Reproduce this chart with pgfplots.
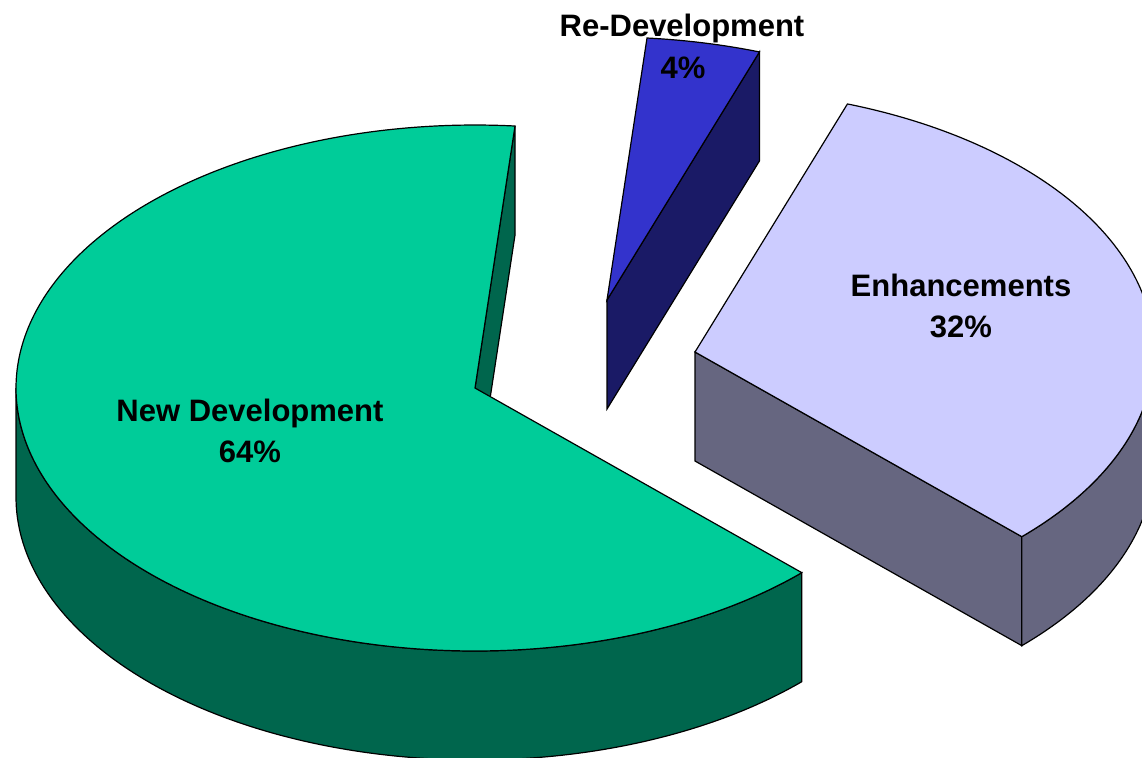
\documentclass[border=0pt]{standalone}
\usepackage{pgfplots}
\pgfplotsset{compat=1.18}
\usepackage{fontspec}
\setmainfont{Liberation Sans}
\definecolor{ndtop}{HTML}{00CC99}
\definecolor{ndside}{HTML}{00664D}
\definecolor{rdtop}{HTML}{3333CC}
\definecolor{rdside}{HTML}{1A1A66}
\definecolor{entop}{HTML}{CCCCFF}
\definecolor{enside}{HTML}{666680}
% data (percent)
\def\NewDev{64}
\def\ReDev{4}
\def\Enh{32}
\def\StartAngle{85}
% geometry (pixels)
\def\RA{459}\def\RB{263}\def\DP{109}
% top face: cx, cy, theta_start, delta, colour
\newcommand{\topface}[5]{%
 \addplot[fill=#5, draw=black, line width=0.6pt, domain=0:3, samples=721, variable=\t]
 ({#1 + \RA*min(\t,1,3-\t)*cos((#3) + (#4)*min(max(\t-1,0),1))},
  {#2 - \RB*min(\t,1,3-\t)*sin((#3) + (#4)*min(max(\t-1,0),1))}) -- cycle;}
% outer side: cx, cy, theta_start, delta, colour
\newcommand{\outerside}[5]{%
 \addplot[fill=#5, draw=black, line width=0.6pt, domain=0:3, samples=601, variable=\t]
 ({#1 + \RA*cos((#3) + (#4)*min(\t,1) - (#4)*max(\t-2,0))},
  {#2 - \RB*sin((#3) + (#4)*min(\t,1) - (#4)*max(\t-2,0)) + \DP*min(max(\t-1,0),1)}) -- cycle;}
% radial face: cx, cy, theta, colour
\newcommand{\radialface}[4]{%
 \addplot[fill=#4, draw=black, line width=0.6pt, samples at={0,1,2,3}, variable=\t]
 ({#1 + \RA*min(\t,1,3-\t)*cos(#3)},
  {#2 - \RB*min(\t,1,3-\t)*sin(#3) + \DP*min(max(\t-1,0),1)}) -- cycle;}
\begin{document}
\begin{tikzpicture}
\pgfmathsetmacro{\gS}{\StartAngle}
\pgfmathsetmacro{\gD}{\NewDev*3.6}
\pgfmathsetmacro{\rD}{\ReDev*3.6}
\pgfmathsetmacro{\rS}{\StartAngle-\rD}
\pgfmathsetmacro{\eD}{\Enh*3.6}
\pgfmathsetmacro{\eS}{\rS-\eD}
\pgfmathsetmacro{\gSide}{\gS+\gD-180}
\pgfmathsetmacro{\eSide}{0-\eS}
\begin{axis}[
  width=571pt, height=378.5pt, scale only axis,
  xmin=0, xmax=1142, ymin=0, ymax=757, y dir=reverse,
  hide axis, clip=true]
% Re-Development (exploded)
\radialface{607}{300}{\rS}{rdside}
\topface{607}{300}{\rS}{\rD}{rdtop}
% Enhancements (exploded)
\radialface{695}{352}{\eS}{enside}
\outerside{695}{352}{\eS}{\eSide}{enside}
\topface{695}{352}{\eS}{\eD}{entop}
% New Development
\radialface{475}{388}{\gS}{ndside}
\outerside{475}{388}{180}{\gSide}{ndside}
\topface{475}{388}{\gS}{\gD}{ndtop}
% labels
\node[font=\fontsize{15.5}{18}\selectfont\bfseries, anchor=base] at (axis cs:250,421) {New Development};
\node[font=\fontsize{15.5}{18}\selectfont\bfseries, anchor=base] at (axis cs:250,462) {64\%};
\node[font=\fontsize{15.5}{18}\selectfont\bfseries, anchor=base] at (axis cs:682,36) {Re-Development};
\node[font=\fontsize{15.5}{18}\selectfont\bfseries, anchor=base] at (axis cs:683,78) {4\%};
\node[font=\fontsize{15.5}{18}\selectfont\bfseries, anchor=base] at (axis cs:961,296) {Enhancements};
\node[font=\fontsize{15.5}{18}\selectfont\bfseries, anchor=base] at (axis cs:961,337) {32\%};
\end{axis}
\pgfresetboundingbox
\useasboundingbox (current axis.south west) rectangle (current axis.north east);
\end{tikzpicture}
\end{document}
